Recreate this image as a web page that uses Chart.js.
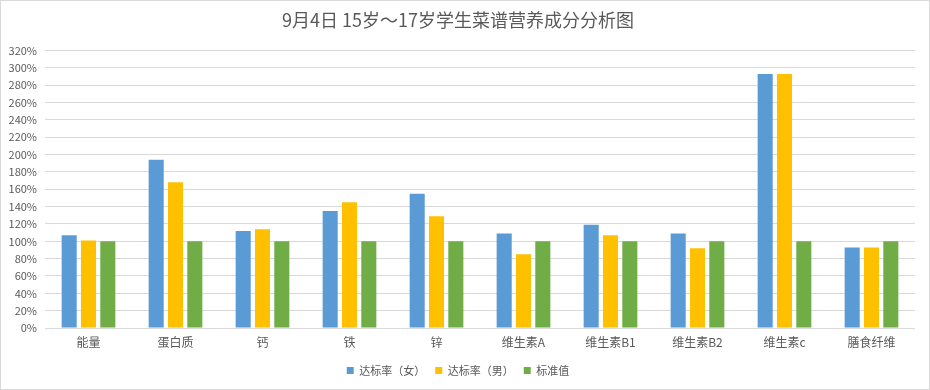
<!DOCTYPE html>
<html lang="zh">
<head>
    <meta charset="UTF-8">
    <title>营养成分分析图</title>
    <script src="https://cdn.jsdelivr.net/npm/chart.js"></script>
    <style>
        body {
            margin: 0;
            background: #ffffff;
        }
        #wrap {
            width: 930px;
            height: 390px;
            box-sizing: border-box;
            border: 1px solid #d9d9d9;
        }
        #wrap canvas {
            display: block;
        }
    </style>
</head>
<body>
    <div id="wrap">
        <canvas id="chart" width="928" height="388"></canvas>
    </div>

    <script>
        // categories
        const nutrients = ['能量', '蛋白质', '钙', '铁', '锌', '维生素A', '维生素B1', '维生素B2', '维生素c', '膳食纤维'];
        // series values in percent
        const femaleRate = [107, 194, 112, 135, 155, 109, 119, 109, 293, 93];
        const maleRate = [101, 168, 114, 145, 129, 85, 107, 92, 293, 93];
        const standard = [100, 100, 100, 100, 100, 100, 100, 100, 100, 100];
        const seriesNames = ['达标率（女）', '达标率（男）', '标准值'];
        const yMax = 320;
        const yStep = 20;

        const textColor = '#595959';
        const fontFamily = '"Noto Sans CJK SC", "Noto Sans", sans-serif';

        const ctx = document.getElementById('chart').getContext('2d');
        new Chart(ctx, {
            type: 'bar',
            data: {
                labels: nutrients,
                datasets: [
                    { label: seriesNames[0], data: femaleRate, backgroundColor: '#5b9bd5' },
                    { label: seriesNames[1], data: maleRate, backgroundColor: '#ffc000' },
                    { label: seriesNames[2], data: standard, backgroundColor: '#70ad47' }
                ]
            },
            options: {
                responsive: false,
                animation: false,
                datasets: {
                    bar: {
                        categoryPercentage: 0.666,
                        barPercentage: 0.78
                    }
                },
                layout: {
                    padding: { top: 0, right: 14, bottom: 3, left: 0 }
                },
                plugins: {
                    title: {
                        display: true,
                        text: '9月4日 15岁～17岁学生菜谱营养成分分析图',
                        color: textColor,
                        font: { family: fontFamily, size: 18, weight: 'normal' },
                        padding: { top: 8, bottom: 20 }
                    },
                    legend: {
                        position: 'bottom',
                        labels: {
                            color: textColor,
                            font: { family: fontFamily, size: 11 },
                            boxWidth: 7,
                            boxHeight: 7,
                            padding: 10
                        }
                    },
                    tooltip: { enabled: false }
                },
                scales: {
                    x: {
                        grid: { display: false, drawTicks: false },
                        border: { display: false },
                        ticks: {
                            color: textColor,
                            font: { family: fontFamily, size: 12 },
                            padding: 7
                        },
                        afterFit: function (scale) {
                            scale.height = 27;
                        }
                    },
                    y: {
                        min: 0,
                        max: yMax,
                        grid: { color: '#d9d9d9', drawTicks: false },
                        border: { display: false },
                        ticks: {
                            stepSize: yStep,
                            color: textColor,
                            font: { family: fontFamily, size: 11 },
                            padding: 8,
                            callback: function (v) { return v + '%'; }
                        },
                        afterFit: function (scale) {
                            scale.width = 44;
                        }
                    }
                }
            }
        });
    </script>
</body>
</html>
